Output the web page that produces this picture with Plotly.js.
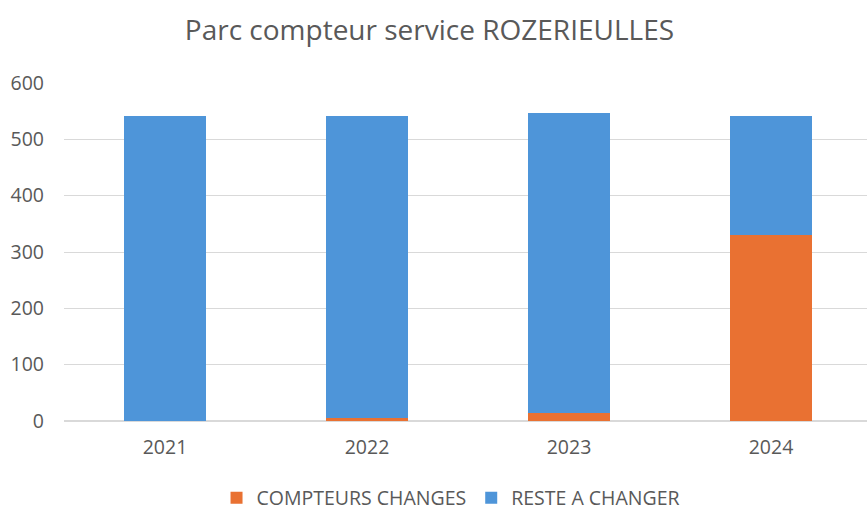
<!DOCTYPE html>
<html><head><meta charset="utf-8">
<script src="https://cdn.plot.ly/plotly-3.0.1.min.js"></script>
<style>html,body{margin:0;padding:0;background:#fff;overflow:hidden}#chart{width:872px;height:510px}</style>
</head><body><div id="chart"></div>
<script>
const years = ['2021', '2022', '2023', '2024'];
const compteursChanges = [0, 6, 14, 330];
const resteAChanger = [541, 535, 532, 212];
const yTicks = [0, 100, 200, 300, 400, 500, 600];

const font = 'Open Sans, Liberation Sans, sans-serif';
const grey = '#595959';

const data = [
  {type: 'bar', name: 'COMPTEURS CHANGES', x: years, y: compteursChanges,
   marker: {color: '#E97132'}, width: 0.41},
  {type: 'bar', name: 'RESTE A CHANGER', x: years, y: resteAChanger,
   marker: {color: '#4E95D9'}, width: 0.41}
];
const layout = {
  width: 872, height: 510,
  margin: {l: 64, r: 0, t: 83, b: 89, autoexpand: false},
  barmode: 'stack',
  paper_bgcolor: '#fff', plot_bgcolor: '#fff',
  title: {text: 'Parc compteur service ROZERIEULLES', font: {family: font, size: 28, color: grey},
          x: 0.4925, xanchor: 'center', y: 0.941, yanchor: 'middle'},
  xaxis: {type: 'category', tickfont: {family: font, size: 19.5, color: grey}, automargin: false,
          showline: false, ticks: '', showgrid: false, ticklabelstandoff: 12},
  yaxis: {range: [0, 600], tickvals: yTicks, tickfont: {family: font, size: 19.5, color: grey}, automargin: false,
          gridcolor: '#d9d9d9', gridwidth: 1, zeroline: true, zerolinecolor: '#d9d9d9', zerolinewidth: 1.5,
          showline: false, ticks: '', ticklabelstandoff: 19},
  legend: {orientation: 'h', x: 0.479, xanchor: 'center', yref: 'container', y: 0.0235, yanchor: 'middle',
           font: {family: font, size: 19.5, color: grey}, traceorder: 'normal', itemwidth: 30},
  showlegend: true
};
Plotly.newPlot('chart', data, layout, {displayModeBar: false, staticPlot: true});
</script></body></html>
